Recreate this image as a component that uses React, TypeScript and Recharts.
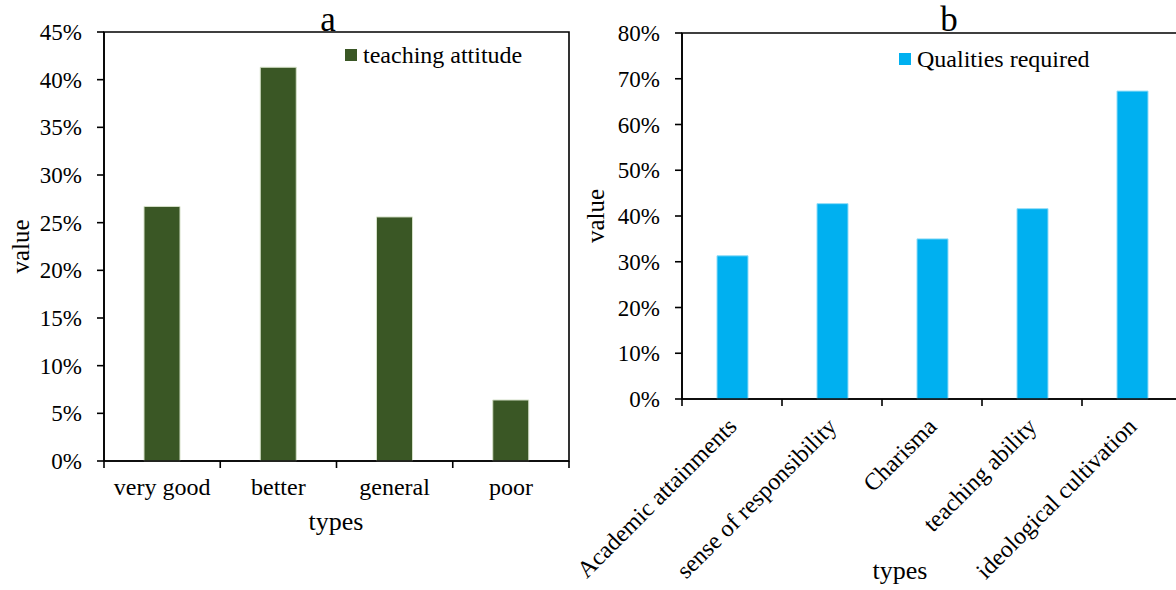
import React from 'react';
import { BarChart, Bar, XAxis, YAxis, Legend, Label, ReferenceArea } from 'recharts';

// panel a: teaching attitude
const attitudeTypes = ['very good', 'better', 'general', 'poor'];
const attitudeValues = [0.267, 0.413, 0.256, 0.064];
const attitudeTicks = [0, 0.05, 0.1, 0.15, 0.2, 0.25, 0.3, 0.35, 0.4, 0.45];

// panel b: qualities required
const qualityTypes = [
  'Academic attainments',
  'sense of responsibility',
  'Charisma',
  'teaching ability',
  'ideological cultivation',
];
const qualityValues = [0.313, 0.427, 0.35, 0.416, 0.673];
const qualityTicks = [0, 0.1, 0.2, 0.3, 0.4, 0.5, 0.6, 0.7, 0.8];

const FONT = '"Liberation Serif", "Times New Roman", serif';
const TICK_LEN = 7;
const LINE_W = 1.6;

const attitudeData = attitudeTypes.map((type, i) => ({ type, value: attitudeValues[i] }));
const qualityData = qualityTypes.map((type, i) => ({ type, value: qualityValues[i] }));

const pct = (v: number) => `${Math.round(v * 100)}%`;

// category tick: tick marks sit on the band edges, label in the middle
function BandTick(props: any) {
  const { x, y, payload, index, count, rotated } = props;
  const half = payload.offset ?? 0;
  const top = y - TICK_LEN;
  const last = index === count - 1;
  return (
    <g>
      <line x1={x - half} y1={top} x2={x - half} y2={y} stroke="#000" strokeWidth={LINE_W} />
      {last && <line x1={x + half} y1={top} x2={x + half} y2={y} stroke="#000" strokeWidth={LINE_W} />}
      {rotated ? (
        <text
          x={x + 6}
          y={y + 22}
          transform={`rotate(-45, ${x + 6}, ${y + 22})`}
          textAnchor="end"
          fontFamily={FONT}
          fontSize={24}
          fill="#000"
        >
          {payload.value}
        </text>
      ) : (
        <text x={x} y={y + 27} textAnchor="middle" fontFamily={FONT} fontSize={24} fill="#000">
          {payload.value}
        </text>
      )}
    </g>
  );
}

const yTitle = (dx: number) => (props: any) => {
  const { viewBox } = props;
  const cx = viewBox.x + dx;
  const cy = viewBox.y + viewBox.height / 2;
  return (
    <text
      x={cx}
      y={cy}
      transform={`rotate(-90, ${cx}, ${cy})`}
      textAnchor="middle"
      dominantBaseline="central"
      fontFamily={FONT}
      fontSize={25}
      fill="#000"
    >
      value
    </text>
  );
};

const xTitle = (cx: number, dy: number) => (props: any) => {
  const { viewBox } = props;
  return (
    <text x={cx} y={viewBox.y + dy} textAnchor="middle" fontFamily={FONT} fontSize={26} fill="#000">
      types
    </text>
  );
};

const renderLegend = (props: any) => {
  const item = props.payload?.[0];
  if (!item) return null;
  return (
    <div style={{ display: 'flex', alignItems: 'center', whiteSpace: 'nowrap' }}>
      <span style={{ width: 12, height: 12, background: item.color, marginRight: 6 }} />
      <span style={{ fontFamily: FONT, fontSize: 24, lineHeight: '26px', color: '#000' }}>{item.value}</span>
    </div>
  );
};

const yTick = { fontFamily: FONT, fontSize: 23, fill: '#000' };
const axisLine = { stroke: '#000', strokeWidth: LINE_W };

function PanelTitle({ text, cx }: { text: string; cx: number }) {
  return (
    <div
      style={{
        position: 'absolute',
        left: cx - 50,
        top: 3,
        width: 100,
        textAlign: 'center',
        fontFamily: FONT,
        fontSize: 35,
        lineHeight: '34px',
        color: '#000',
      }}
    >
      {text}
    </div>
  );
}

export default function App() {
  return (
    <div
      style={{
        position: 'absolute',
        left: 0,
        top: 0,
        width: 1176,
        height: 590,
        overflow: 'hidden',
        background: '#fff',
      }}
    >
      <div style={{ position: 'absolute', left: 0, top: 0 }}>
        <BarChart
          width={576}
          height={590}
          data={attitudeData}
          margin={{ top: 32, right: 7, bottom: 0, left: 0 }}
          barSize={36}
        >
          <ReferenceArea
            x1={attitudeTypes[0]}
            x2={attitudeTypes[attitudeTypes.length - 1]}
            y1={0}
            y2={0.45}
            fill="none"
            stroke="#000"
            strokeWidth={LINE_W}
            ifOverflow="visible"
          />
          <XAxis
            dataKey="type"
            height={129}
            interval={0}
            axisLine={axisLine}
            tickLine={{ stroke: 'none' }}
            tickSize={TICK_LEN}
            tickMargin={0}
            tick={(p: any) => <BandTick {...p} count={attitudeTypes.length} />}
          >
            <Label content={xTitle(336, 69)} />
          </XAxis>
          <YAxis
            width={104}
            domain={[0, 0.45]}
            ticks={attitudeTicks}
            interval={0}
            tickFormatter={pct}
            axisLine={axisLine}
            tickLine={{ stroke: '#000', strokeWidth: LINE_W }}
            tickSize={TICK_LEN}
            tickMargin={15}
            tick={yTick}
          >
            <Label content={yTitle(20)} />
          </YAxis>
          <Legend
            layout="vertical"
            align="center"
            verticalAlign="middle"
            wrapperStyle={{ top: 42, left: 345 }}
            content={renderLegend}
          />
          <Bar
            dataKey="value"
            name="teaching attitude"
            fill="#3A5725"
            stroke="#d5e0c8"
            strokeWidth={1}
            isAnimationActive={false}
          />
        </BarChart>
      </div>

      <div style={{ position: 'absolute', left: 560, top: 0 }}>
        <BarChart
          width={632}
          height={590}
          data={qualityData}
          margin={{ top: 33, right: 10, bottom: 0, left: 0 }}
          barSize={31}
        >
          <ReferenceArea
            x1={qualityTypes[0]}
            x2={qualityTypes[qualityTypes.length - 1]}
            y1={0}
            y2={0.8}
            fill="none"
            stroke="#000"
            strokeWidth={LINE_W}
            ifOverflow="visible"
          />
          <XAxis
            dataKey="type"
            height={191}
            interval={0}
            axisLine={axisLine}
            tickLine={{ stroke: 'none' }}
            tickSize={TICK_LEN}
            tickMargin={0}
            tick={(p: any) => <BandTick {...p} count={qualityTypes.length} rotated />}
          >
            <Label content={xTitle(340, 180)} />
          </XAxis>
          <YAxis
            width={122}
            domain={[0, 0.8]}
            ticks={qualityTicks}
            interval={0}
            tickFormatter={pct}
            axisLine={axisLine}
            tickLine={{ stroke: '#000', strokeWidth: LINE_W }}
            tickSize={TICK_LEN}
            tickMargin={15}
            tick={yTick}
          >
            <Label content={yTitle(35)} />
          </YAxis>
          <Legend
            layout="vertical"
            align="center"
            verticalAlign="middle"
            wrapperStyle={{ top: 46, left: 339 }}
            content={renderLegend}
          />
          <Bar
            dataKey="value"
            name="Qualities required"
            fill="#00B0F0"
            stroke="#8fdcf7"
            strokeWidth={1}
            isAnimationActive={false}
          />
        </BarChart>
      </div>

      <PanelTitle text="a" cx={328} />
      <PanelTitle text="b" cx={949} />
    </div>
  );
}
